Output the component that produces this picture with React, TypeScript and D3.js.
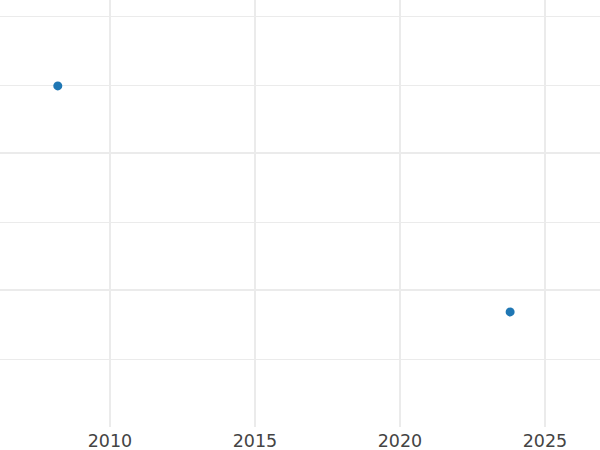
import React from "react";
import * as d3 from "d3";

const years = [2008.2, 2023.8];
const values = [2.49, 0.84];
const xTicks = [2010, 2015, 2020, 2025];
const yMajorTicks = [1, 2];
const yMinorTicks = [0.5, 1.5, 2.5, 3];

const W = 600;
const H = 450;
const plotBottom = 427;

export default function App() {
  const x = d3.scaleLinear().domain([2006.207, 2026.9]).range([0, W]);
  const y = d3.scaleLinear().domain([0, 3.117]).range([plotBottom, 0]);
  const snap = (v: number) => Math.round(v) + 0.5;
  return (
    <svg
      width={W}
      height={H}
      style={{ position: "absolute", left: 0, top: 0, background: "#fff" }}
      fontFamily="DejaVu Sans"
    >
      <rect x={0} y={0} width={W} height={H} fill="#fff" />
      {yMinorTicks.map((t) => (
        <line key={"mn" + t} x1={0} x2={W} y1={snap(y(t))} y2={snap(y(t))} stroke="#ebebeb" strokeWidth={1} />
      ))}
      {yMajorTicks.map((t) => (
        <line key={"mj" + t} x1={0} x2={W} y1={Math.round(y(t))} y2={Math.round(y(t))} stroke="#ebebeb" strokeWidth={2} />
      ))}
      {xTicks.map((t) => (
        <line key={"x" + t} x1={Math.round(x(t))} x2={Math.round(x(t))} y1={0} y2={plotBottom} stroke="#ebebeb" strokeWidth={2} />
      ))}
      {xTicks.map((t) => (
        <text key={"t" + t} x={x(t)} y={447} textAnchor="middle" fontSize={17.5} fill="#444">
          {t}
        </text>
      ))}
      {years.map((yr, i) => (
        <circle key={i} cx={x(yr)} cy={y(values[i])} r={4.5} fill="#1f77b4" />
      ))}
    </svg>
  );
}
